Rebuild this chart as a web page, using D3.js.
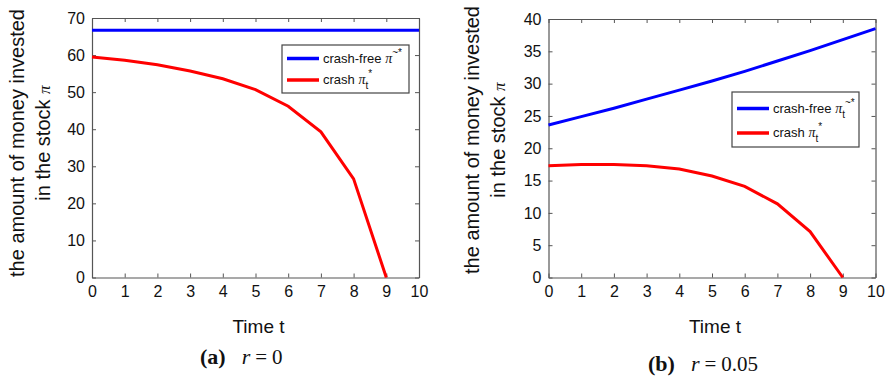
<!DOCTYPE html>
<html>
<head>
<meta charset="utf-8">
<script src="https://cdn.jsdelivr.net/npm/d3@7"></script>
<style>
  body { margin: 0; background: #fff; }
  svg { font-family: "Liberation Sans", Arial, sans-serif; }
  text { fill: #111; }
</style>
</head>
<body>
<svg id="chart" width="893" height="379"></svg>
<script>
// time axis
const timeSteps = [0, 1, 2, 3, 4, 5, 6, 7, 8, 9, 10];
const crashTimes = [0, 1, 2, 3, 4, 5, 6, 7, 8, 9];

// (a) r = 0
const crashFreeA = [66.7, 66.7, 66.7, 66.7, 66.7, 66.7, 66.7, 66.7, 66.7, 66.7, 66.7];
const crashA = [59.5, 58.6, 57.4, 55.7, 53.6, 50.7, 46.2, 39.3, 26.6, 0];
const yTicksA = [0, 10, 20, 30, 40, 50, 60, 70];

// (b) r = 0.05
const crashFreeB = [23.6, 24.9, 26.2, 27.6, 29.0, 30.4, 31.9, 33.5, 35.1, 36.8, 38.5];
const crashB = [17.3, 17.5, 17.5, 17.3, 16.8, 15.7, 14.1, 11.4, 7.1, 0];
const yTicksB = [0, 5, 10, 15, 20, 25, 30, 35, 40];

const svg = d3.select("#chart");
const SANS = "'Liberation Sans', Arial, sans-serif";
const SERIF = "'Liberation Serif', 'Times New Roman', serif";

function drawPanel(p) {
  const x = d3.scaleLinear().domain([0, 10]).range([p.left, p.right]);
  const y = d3.scaleLinear().domain([0, p.ymax]).range([p.bottom, p.top]);
  const g = svg.append("g");
  const axisColor = "#555";

  // box, ticks inward on all four sides
  const ax = [
    g.append("g").attr("transform", `translate(0,${p.bottom})`).call(d3.axisBottom(x).tickValues(timeSteps).tickSizeInner(-4).tickSizeOuter(0).tickPadding(8)),
    g.append("g").attr("transform", `translate(0,${p.top})`).call(d3.axisTop(x).tickValues(timeSteps).tickSizeInner(-4).tickSizeOuter(0).tickFormat("")),
    g.append("g").attr("transform", `translate(${p.left},0)`).call(d3.axisLeft(y).tickValues(p.yTicks).tickSizeInner(-4).tickSizeOuter(0).tickPadding(7)),
    g.append("g").attr("transform", `translate(${p.right},0)`).call(d3.axisRight(y).tickValues(p.yTicks).tickSizeInner(-4).tickSizeOuter(0).tickFormat(""))
  ];
  ax.forEach(a => {
    a.select(".domain").attr("stroke", axisColor).attr("stroke-width", 1.2);
    a.selectAll(".tick line").attr("stroke", axisColor);
    a.selectAll(".tick text").attr("font-size", 16).attr("fill", "#111").style("font-family", SANS);
  });

  const line = d3.line().x(d => x(d[0])).y(d => y(d[1]));
  g.append("path").datum(timeSteps.map((t, i) => [t, p.free[i]]))
    .attr("d", line).attr("fill", "none").attr("stroke", "#0000ff").attr("stroke-width", 3);
  g.append("path").datum(crashTimes.map((t, i) => [t, p.crash[i]]))
    .attr("d", line).attr("fill", "none").attr("stroke", "#ff0000").attr("stroke-width", 3);

  // legend
  const lg = g.append("g").attr("transform", `translate(${p.leg[0]},${p.leg[1]})`);
  lg.append("rect").attr("width", p.leg[2]).attr("height", p.leg[3])
    .attr("fill", "#fff").attr("stroke", "#444").attr("stroke-width", 1.2);
  const rows = [
    {color: "#0000ff", label: "crash-free ", sub: p.freeSub, dy: p.rowY[0], sup: "~*"},
    {color: "#ff0000", label: "crash ", sub: "t", dy: p.rowY[1], sup: "*"}
  ];
  rows.forEach(r => {
    lg.append("line").attr("x1", 5).attr("x2", 37).attr("y1", r.dy).attr("y2", r.dy)
      .attr("stroke", r.color).attr("stroke-width", 3.5);
    const t = lg.append("text").attr("x", 41).attr("y", r.dy + 4).attr("font-size", 13);
    t.append("tspan").text(r.label);
    t.append("tspan").style("font-family", SERIF).attr("font-style", "italic").attr("font-size", 14).text("π");
    if (r.sub) {
      t.append("tspan").attr("font-size", 10).attr("dy", 5).text(r.sub);
      t.append("tspan").attr("font-size", 10).attr("dy", -12).text(r.sup);
    } else {
      t.append("tspan").attr("font-size", 10).attr("dy", -7).text(r.sup);
    }
  });

  // axis labels
  g.append("text").attr("x", (p.left + p.right) / 2 + 3).attr("y", 333)
    .attr("text-anchor", "middle").attr("font-size", 19).text("Time t");
  const yl = g.append("text").attr("transform", `translate(${p.ylabX},${p.ylabY}) rotate(-90)`)
    .attr("text-anchor", "middle").attr("font-size", 20);
  yl.append("tspan").attr("x", 0).attr("dy", 0).text("the amount of money invested");
  const l2 = yl.append("tspan").attr("x", 0).attr("dy", 26).text("in the stock  ");
  l2.append("tspan").style("font-family", SERIF).attr("font-style", "italic").attr("font-size", 17).text("π");

  // caption
  const cap = svg.append("text").attr("x", p.capX).attr("y", p.capY)
    .style("font-family", SERIF).attr("font-size", 22);
  cap.append("tspan").attr("font-weight", "bold").text("(" + p.letter + ")");
  cap.append("tspan").attr("dx", 16).attr("font-style", "italic").text("r");
  cap.append("tspan").attr("dx", 5).attr("font-size", 21).text("=");
  cap.append("tspan").attr("dx", 5).attr("font-size", 21).text(p.r);
}

drawPanel({
  left: 92, right: 419, top: 18, bottom: 277.5, ymax: 70, yTicks: yTicksA,
  free: crashFreeA, crash: crashA, freeSub: null,
  leg: [282, 45, 127, 48], rowY: [13.5, 35],
  ylabX: 24, ylabY: 143, capX: 200, capY: 364, letter: "a", r: "0"
});
drawPanel({
  left: 548.5, right: 875.5, top: 19, bottom: 277.5, ymax: 40, yTicks: yTicksB,
  free: crashFreeB, crash: crashB, freeSub: "t",
  leg: [732, 92, 127, 55], rowY: [16.5, 41],
  ylabX: 479, ylabY: 140, capX: 648, capY: 371, letter: "b", r: "0.05"
});
</script>
</body>
</html>
